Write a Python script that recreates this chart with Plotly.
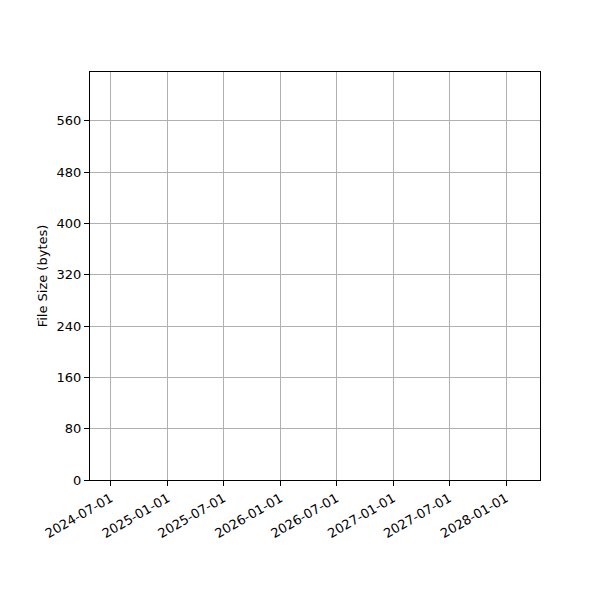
import plotly.graph_objects as go

# the chart has no data points, only the empty axes
dates = []
file_sizes = []

x_ticks = ['2024-07-01', '2025-01-01', '2025-07-01', '2026-01-01',
           '2026-07-01', '2027-01-01', '2027-07-01', '2028-01-01']
y_ticks = [0, 80, 160, 240, 320, 400, 480, 560]
x_range = ['2024-04-25', '2028-04-20']
y_range = [0, 636]

fig = go.Figure()
fig.add_trace(go.Scatter(x=dates, y=file_sizes, mode='lines',
                         line=dict(color='#1f77b4'), showlegend=False))

axis_style = dict(showline=True, linecolor='black', linewidth=1, mirror=True,
                  ticks='outside', ticklen=5, tickwidth=1, tickcolor='black',
                  showgrid=True, gridcolor='#b0b0b0', gridwidth=1,
                  zeroline=False, tickfont=dict(size=13, color='black'))

fig.update_xaxes(type='date', range=x_range, tickvals=x_ticks, ticktext=x_ticks,
                 tickangle=-30, **axis_style)
fig.update_yaxes(range=y_range, tickvals=y_ticks, ticktext=[str(v) for v in y_ticks],
                 title=dict(text='File Size (bytes)', font=dict(size=13, color='black'),
                            standoff=6),
                 **axis_style)

# page body adds 8px, so margins are shifted to compensate
fig.update_layout(width=600, height=600,
                  margin=dict(l=82, r=68, t=64, b=128, autoexpand=False),
                  plot_bgcolor='white', paper_bgcolor='white',
                  font=dict(family='DejaVu Sans', color='black'))

fig.write_html("out.html")
